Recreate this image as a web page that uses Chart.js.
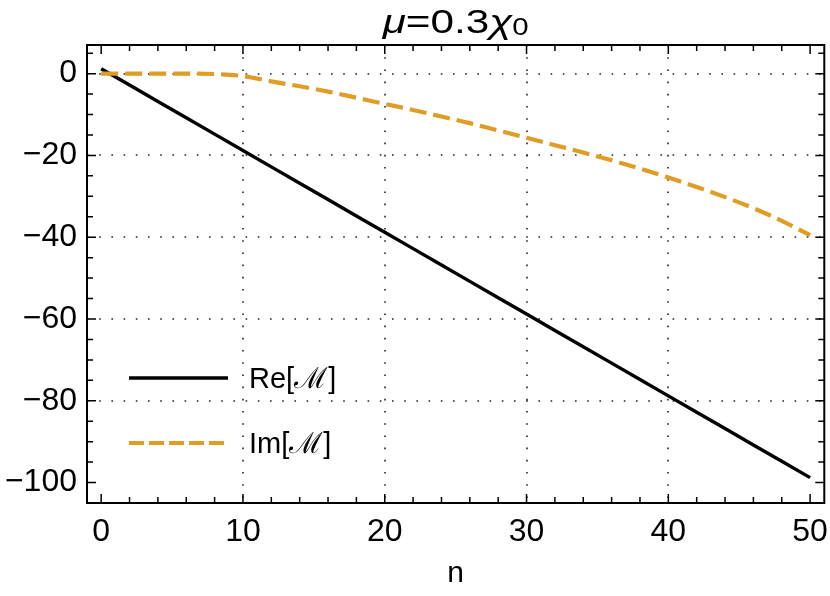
<!DOCTYPE html>
<html>
<head>
<meta charset="utf-8">
<script src="https://cdn.jsdelivr.net/npm/chart.js@4"></script>
<style>
  html, body { margin: 0; padding: 0; background: #fff; }
  #wrap { width: 830px; height: 596px; }
</style>
</head>
<body>
<div id="wrap"><canvas id="muChart" width="830" height="596"></canvas></div>
<script>
// data
const nValues = [0, 2, 4, 6, 8, 10, 12, 14, 16, 18, 20, 22, 24, 26, 28, 30, 32, 34, 36, 38, 40, 42, 44, 46, 48, 50];
const reValues = [1.2, -2.8, -6.8, -10.8, -14.8, -18.8, -22.8, -26.8, -30.8, -34.8, -38.8, -42.8, -46.8,
                  -50.8, -54.8, -58.8, -62.8, -66.8, -70.8, -74.8, -78.8, -82.8, -86.8, -90.8, -94.8, -98.8];
const imValues = [0, 0, 0, 0, -0.1, -0.6, -1.9, -3.1, -4.4, -5.9, -7.4, -8.9, -10.5,
                  -12.1, -13.9, -15.7, -17.5, -19.3, -21.2, -23.2, -25.4, -27.7, -30.2, -32.9, -36.0, -39.5];
const seriesNames = ['Re[\u2133]', 'Im[\u2133]'];
const xTicks = [0, 10, 20, 30, 40, 50];
const yTicks = [0, -20, -40, -60, -80, -100];
const xGrid = [10, 20, 30, 40];
const yGrid = [0, -20, -40, -60, -80];

const FONT = '"Liberation Sans", Arial, sans-serif';
const orange = 'rgb(225, 156, 36)';

function minus(v) {
    return v < 0 ? '\u2212' + Math.abs(v) : String(v);
}

// grid, frame, inward ticks, legend and title
const framePlugin = {
    id: 'frame',
    beforeDatasetsDraw(chart) {
        const { ctx, chartArea: a, scales } = chart;
        ctx.save();
        ctx.strokeStyle = '#222';
        ctx.lineWidth = 1.6;
        ctx.setLineDash([1.6, 10.6]);
        xGrid.forEach(v => {
            const px = Math.round(scales.x.getPixelForValue(v));
            ctx.beginPath(); ctx.moveTo(px, a.top); ctx.lineTo(px, a.bottom); ctx.stroke();
        });
        yGrid.forEach(v => {
            const py = Math.round(scales.y.getPixelForValue(v));
            ctx.beginPath(); ctx.moveTo(a.left, py); ctx.lineTo(a.right, py); ctx.stroke();
        });
        ctx.restore();
    },
    afterDatasetsDraw(chart) {
        const { ctx, chartArea: a, scales } = chart;
        ctx.save();
        ctx.strokeStyle = '#000';
        ctx.lineWidth = 1.5;
        // x ticks (every 2, major every 10)
        for (let v = 0; v <= 50; v += 2) {
            const px = scales.x.getPixelForValue(v);
            const len = v % 10 === 0 ? 9 : 6;
            ctx.beginPath();
            ctx.moveTo(px, a.bottom); ctx.lineTo(px, a.bottom - len);
            ctx.moveTo(px, a.top); ctx.lineTo(px, a.top + len);
            ctx.stroke();
        }
        // y ticks (every 5, major every 20)
        for (let v = -100; v <= 5; v += 5) {
            const py = scales.y.getPixelForValue(v);
            const len = v % 20 === 0 ? 9 : 6;
            ctx.beginPath();
            ctx.moveTo(a.left, py); ctx.lineTo(a.left + len, py);
            ctx.moveTo(a.right, py); ctx.lineTo(a.right - len, py);
            ctx.stroke();
        }
        // frame
        ctx.lineWidth = 2;
        ctx.strokeRect(a.left, a.top, a.right - a.left, a.bottom - a.top);

        // legend
        const lx0 = a.left + 42, lx1 = a.left + 141, tx = a.left + 162;
        const rows = [378, 443];
        ctx.lineWidth = 3.4;
        ctx.strokeStyle = '#000';
        ctx.beginPath(); ctx.moveTo(lx0, rows[0]); ctx.lineTo(lx1, rows[0]); ctx.stroke();
        ctx.strokeStyle = orange;
        ctx.lineWidth = 3.8;
        ctx.setLineDash([15, 5]);
        ctx.beginPath(); ctx.moveTo(lx0, rows[1]); ctx.lineTo(lx1, rows[1]); ctx.stroke();
        ctx.setLineDash([]);
        ctx.fillStyle = '#000';
        ctx.font = '29px ' + FONT;
        ctx.textBaseline = 'alphabetic';
        ctx.textAlign = 'left';
        ctx.fillText(seriesNames[0], tx, rows[0] + 10);
        ctx.fillText(seriesNames[1], tx, rows[1] + 10);

        // title: mu=0.3 chi_0, drawn a little wide like the original
        const parts = [
            { t: '\u03bc', f: 'italic 33px ' + FONT, dy: 0 },
            { t: '=0.3', f: '33px ' + FONT, dy: 0 },
            { t: '\u03c7', f: 'italic 33px ' + FONT, dy: 0 },
            { t: '0', f: '23px ' + FONT, dy: 2 }
        ];
        const sx = 1.28;
        let total = 0;
        parts.forEach(p => { ctx.font = p.f; p.w = ctx.measureText(p.t).width; total += p.w; });
        ctx.translate((a.left + a.right) / 2 - total * sx / 2, 0);
        ctx.scale(sx, 1);
        let x = 0;
        parts.forEach(p => {
            ctx.font = p.f;
            ctx.fillText(p.t, x, 33 + p.dy);
            x += p.w;
        });
        ctx.restore();
    }
};

const ctx = document.getElementById('muChart').getContext('2d');
const muChart = new Chart(ctx, {
    type: 'line',
    data: {
        datasets: [
            {
                label: seriesNames[0],
                data: nValues.map((n, i) => ({ x: n, y: reValues[i] })),
                borderColor: '#000',
                borderWidth: 3.4,
                pointRadius: 0,
                fill: false,
                order: 2
            },
            {
                label: seriesNames[1],
                data: nValues.map((n, i) => ({ x: n, y: imValues[i] })),
                borderColor: orange,
                borderWidth: 4.2,
                borderDash: [17, 7],
                pointRadius: 0,
                cubicInterpolationMode: 'monotone',
                fill: false,
                order: 1
            }
        ]
    },
    options: {
        responsive: false,
        animation: false,
        layout: { padding: { left: 0, right: 5, top: 45, bottom: 0 } },
        plugins: {
            legend: { display: false },
            title: { display: false },
            tooltip: { enabled: false }
        },
        scales: {
            x: {
                type: 'linear',
                min: -1,
                max: 51,
                grid: { display: false },
                border: { display: false },
                afterBuildTicks: s => { s.ticks = xTicks.map(v => ({ value: v })); },
                afterFit: s => { s.height = 93; },
                ticks: {
                    color: '#000',
                    padding: 2,
                    maxRotation: 0,
                    font: { family: FONT, size: 32 },
                    callback: v => minus(v)
                },
                title: {
                    display: true,
                    text: 'n',
                    color: '#000',
                    padding: { top: 0, bottom: 4 },
                    font: { family: FONT, size: 30 }
                }
            },
            y: {
                min: -105,
                max: 7,
                grid: { display: false },
                border: { display: false },
                afterBuildTicks: s => { s.ticks = yTicks.map(v => ({ value: v })); },
                afterFit: s => { s.width = 87; },
                ticks: {
                    color: '#000',
                    padding: 2,
                    font: { family: FONT, size: 32 },
                    callback: v => minus(v)
                }
            }
        }
    },
    plugins: [framePlugin]
});
</script>
</body>
</html>
